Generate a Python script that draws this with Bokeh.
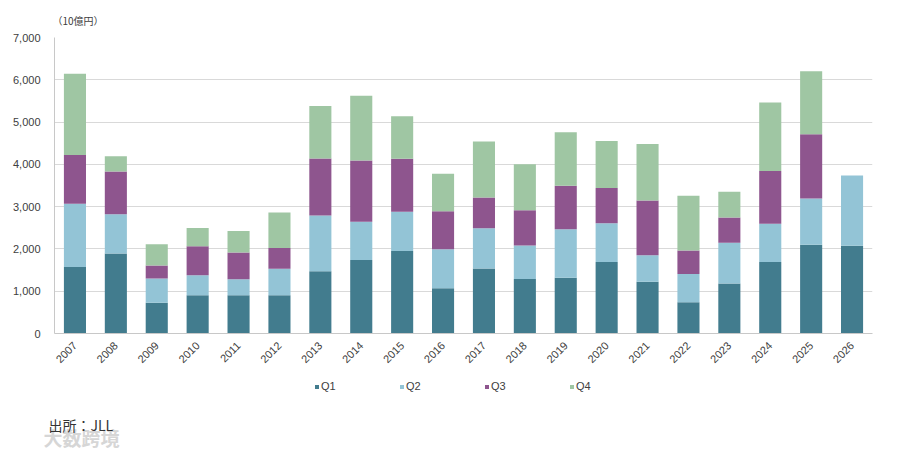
from math import pi

from bokeh.embed import file_html
from bokeh.layouts import column
from bokeh.models import ColumnDataSource
from bokeh.models import Label
from bokeh.models import Legend
from bokeh.models import LegendItem
from bokeh.models import NumeralTickFormatter
from bokeh.models import SingleIntervalTicker
from bokeh.plotting import figure
from bokeh.resources import INLINE

years = [str(y) for y in range(2007, 2027)]
q1 = [1570, 1890, 730, 905, 905, 905, 1470, 1740, 1950, 1070,
      1540, 1290, 1320, 1690, 1225, 740, 1180, 1690, 2100, 2075]
q2 = [1500, 930, 570, 470, 380, 625, 1320, 905, 930, 920,
      950, 790, 1145, 915, 625, 670, 965, 905, 1090, 1660]
q3 = [1150, 1010, 310, 690, 630, 490, 1350, 1445, 1255, 900,
      725, 835, 1030, 835, 1295, 555, 600, 1250, 1520, 0]
q4 = [1920, 360, 500, 430, 510, 840, 1240, 1535, 1000, 890,
      1325, 1090, 1265, 1115, 1335, 1295, 610, 1620, 1490, 0]
quarters = ["Q1", "Q2", "Q3", "Q4"]
colors = ["#427c8e", "#93c4d6", "#8e558e", "#9fc6a3"]

source = ColumnDataSource(data=dict(year=years, Q1=q1, Q2=q2, Q3=q3, Q4=q4))

font = "Liberation Sans"
jp_font = "Noto Sans CJK JP"

# main chart
p = figure(
    x_range=years,
    y_range=(0, 7000),
    width=892,
    height=370,
    output_backend="svg",
    toolbar_location=None,
    min_border_left=54,
    min_border_right=20,
    min_border_top=35,
    min_border_bottom=37,
)
p.outline_line_color = None

# unit label above the frame
p.title.text = "（10億円）"
p.title.align = "left"
p.title.offset = -2
p.title.standoff = 20
p.title.text_font = jp_font
p.title.text_font_size = "10px"
p.title.text_font_style = "normal"
p.title.text_color = "#404040"

p.vbar_stack(
    quarters,
    x="year",
    width=0.54,
    color=colors,
    line_color=None,
    source=source,
)

p.yaxis.ticker = SingleIntervalTicker(interval=1000)
p.yaxis.formatter = NumeralTickFormatter(format="0,0")
p.yaxis.major_label_text_font = font
p.yaxis.major_label_text_font_size = "11px"
p.yaxis.major_label_text_color = "#404040"
p.yaxis.axis_line_color = "#c8c8c8"
p.yaxis.major_tick_line_color = None
p.yaxis.minor_tick_line_color = None
p.yaxis.major_label_standoff = 8

p.xaxis.major_label_orientation = pi / 4
p.xaxis.major_label_text_font = font
p.xaxis.major_label_text_font_size = "11px"
p.xaxis.major_label_text_color = "#404040"
p.xaxis.axis_line_color = "#c8c8c8"
p.xaxis.major_tick_line_color = None
p.xaxis.major_label_standoff = 4

p.xgrid.grid_line_color = None
p.ygrid.grid_line_color = "#d9d9d9"
p.ygrid.grid_line_width = 1

# footer: legend, source note, watermark
foot = figure(
    x_range=(0, 892),
    y_range=(0, 81),
    width=892,
    height=81,
    x_axis_type=None,
    y_axis_type=None,
    output_backend="svg",
    toolbar_location=None,
    min_border=0,
)
foot.outline_line_color = None
foot.grid.grid_line_color = None

# don't let the column line the footer frame up with the chart frame
for fig in (p, foot):
    if "frame_align" in fig.properties():
        fig.frame_align = False

# legend keys only (no visible bars in the footer)
nan = float("nan")
key_source = ColumnDataSource(data=dict(x=[nan], top=[nan]))
key_renderers = [
    foot.vbar(x="x", top="top", width=1, color=c, line_color=None, source=key_source)
    for c in colors
]

legend = Legend(
    items=[LegendItem(label=q, renderers=[r]) for q, r in zip(quarters, key_renderers)],
    orientation="horizontal",
    location=(314, 59),
    glyph_width=5,
    glyph_height=5,
    label_standoff=2,
    label_width=20,
    spacing=58,
    padding=2,
    margin=0,
    label_height=12,
    label_text_font=font,
    label_text_font_size="11px",
    label_text_color="#404040",
    background_fill_alpha=0,
    border_line_color=None,
)
foot.add_layout(legend, "center")

watermark = Label(
    x=43, y=14, text="大数跨境", text_font=jp_font, text_font_size="19px",
    text_font_style="bold", text_color="#d6d6d6", text_baseline="middle",
)
foot.add_layout(watermark)

src = Label(
    x=48, y=27, text="出所：JLL", text_font=jp_font, text_font_size="14px",
    text_color="#333333", text_baseline="middle",
)
foot.add_layout(src)

open("out.html", "w").write(file_html(column(p, foot), INLINE))
